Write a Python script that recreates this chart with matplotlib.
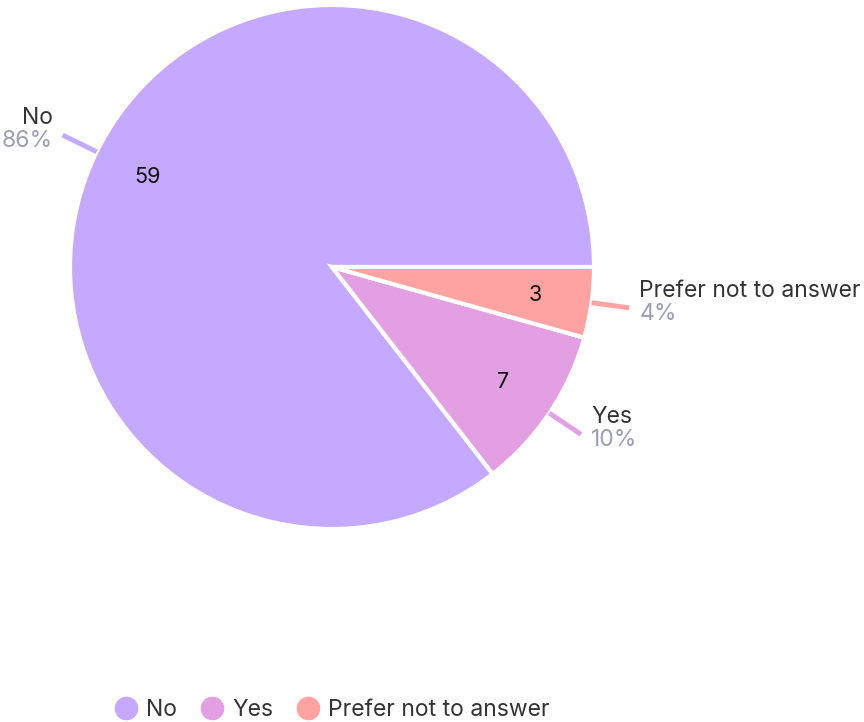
import numpy as np
import matplotlib.pyplot as plt
from matplotlib.lines import Line2D

plt.rcParams['font.family'] = ['Inter', 'DejaVu Sans']

categories = ['No', 'Yes', 'Prefer not to answer']
counts = [59, 7, 3]
percents = ['86%', '10%', '4%']
colors = ['#c5a9fe', '#e2a0e3', '#fea3a2']

W, H = 864, 722
fig = plt.figure(figsize=(W / 100, H / 100), dpi=100)
ax = fig.add_axes([0, 0, 1, 1])
ax.axis('off')

cx, cy, R = 332, H - 267, 262

wedges, _ = ax.pie(counts, colors=colors, startangle=0, counterclock=True,
                   center=(cx, cy), radius=R,
                   wedgeprops={'edgecolor': 'white', 'linewidth': 3})
ax.set_xlim(0, W)
ax.set_ylim(0, H)
ax.set_aspect('equal')

for w, n, name, pct, col in zip(wedges, counts, categories, percents, colors):
    mid = np.deg2rad((w.theta1 + w.theta2) / 2)
    c, s = np.cos(mid), np.sin(mid)
    # value inside slice
    ax.text(cx + 0.785 * R * c, cy + 0.785 * R * s, str(n), ha='center', va='center',
            fontsize=15.5, color='#111111')
    # leader line
    x0, y0 = cx + R * c, cy + R * s
    x1, y1 = cx + 1.145 * R * c, cy + 1.145 * R * s
    ax.plot([x0, x1], [y0, y1], color=col, lw=3.5, solid_capstyle='butt')
    if c < 0:
        tx, ha = x1 - 10, 'right'
    else:
        tx, ha = x1 + 10, 'left'
    ax.text(tx, y1 + 17, name, ha=ha, va='center', fontsize=16.5, color='#333333')
    ax.text(tx, y1 - 6, pct, ha=ha, va='center', fontsize=16.5, color='#9d9db5')

handles = [Line2D([], [], marker='o', linestyle='none', markersize=16,
                  markerfacecolor=col, markeredgecolor=col) for col in colors]
ax.legend(handles, categories, loc='center', bbox_to_anchor=(332, H - 710),
          bbox_transform=ax.transData, ncol=3, frameon=False, fontsize=16.5,
          handletextpad=0.4, columnspacing=1.0, labelcolor='#333333',
          handlelength=1.0)

fig.savefig('out.png', dpi=100)
